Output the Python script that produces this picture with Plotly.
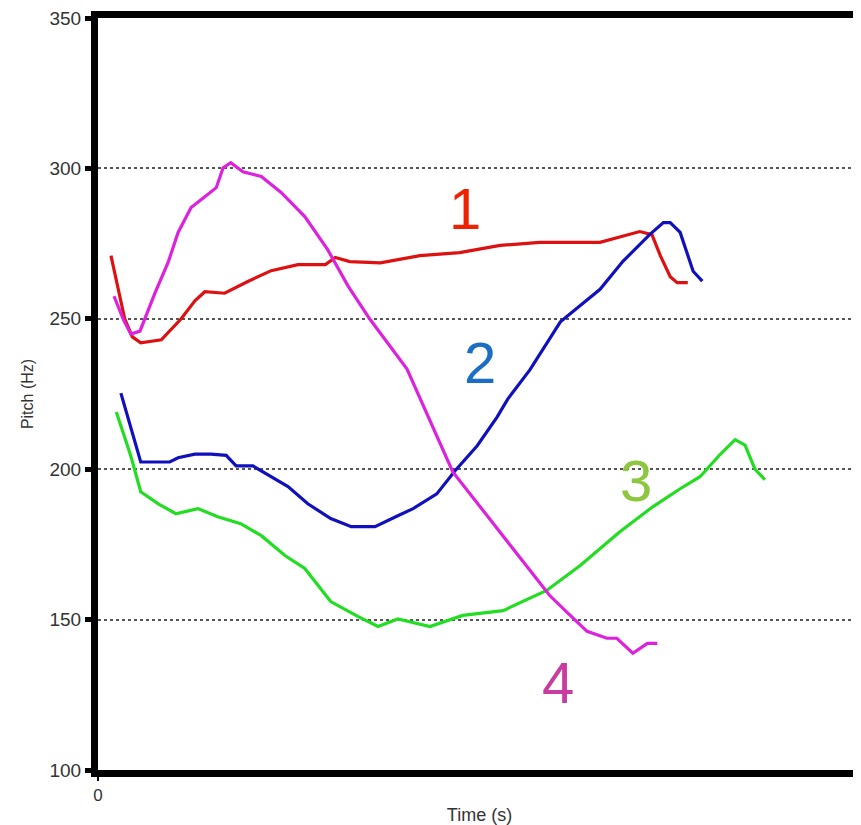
import plotly.graph_objects as go

# Series 1 (red)
t1 = [0.017, 0.026, 0.035, 0.045, 0.056, 0.083, 0.109, 0.127, 0.140, 0.166, 0.197, 0.227, 0.262,
      0.298, 0.311, 0.330, 0.370, 0.422, 0.474, 0.527, 0.579, 0.658, 0.710, 0.726, 0.737, 0.750,
      0.759, 0.773]
f1 = [271, 260.5, 250, 244, 242, 243, 250, 256, 259, 258.5, 262.5, 266, 268, 268, 270.4, 269,
      268.6, 271, 272, 274.4, 275.4, 275.4, 279, 278, 271, 264, 262, 262]

# Series 2 (blue)
t2 = [0.030, 0.043, 0.056, 0.094, 0.105, 0.127, 0.148, 0.168, 0.181, 0.203, 0.227, 0.249, 0.275,
      0.305, 0.332, 0.363, 0.393, 0.413, 0.444, 0.468, 0.497, 0.523, 0.537, 0.566, 0.606, 0.658,
      0.688, 0.723, 0.741, 0.750, 0.763, 0.772, 0.780, 0.792]
f2 = [225.3, 213.4, 202.4, 202.4, 203.8, 205, 205, 204.6, 201.1, 201.1, 197.5, 194.2, 188.5,
      183.6, 180.9, 180.9, 184.5, 186.9, 191.8, 199.5, 207.8, 217.3, 223.3, 233, 249, 259.8,
      269.1, 278, 282, 282, 278.7, 272, 265.8, 262.5]

# Series 3 (green)
t3 = [0.024, 0.043, 0.056, 0.079, 0.102, 0.131, 0.157, 0.187, 0.214, 0.245, 0.271, 0.305, 0.341,
      0.367, 0.393, 0.435, 0.478, 0.531, 0.588, 0.632, 0.684, 0.727, 0.763, 0.789, 0.815, 0.835,
      0.848, 0.861, 0.874]
f3 = [219, 204.4, 192.5, 188.5, 185.2, 186.9, 184.2, 181.9, 177.9, 171.3, 167, 156, 151, 147.7,
      150.2, 147.7, 151.4, 153, 159.7, 168, 179.2, 187.5, 193.5, 197.5, 204.8, 209.8, 208, 200,
      196.5]

# Series 4 (magenta)
t4 = [0.021, 0.033, 0.043, 0.055, 0.075, 0.092, 0.105, 0.122, 0.140, 0.155, 0.164, 0.174, 0.190,
      0.214, 0.240, 0.271, 0.301, 0.328, 0.356, 0.405, 0.465, 0.510, 0.553, 0.592, 0.623, 0.641,
      0.667, 0.680, 0.701, 0.720, 0.733]
f4 = [257.5, 249.9, 244.9, 245.9, 258.8, 268.8, 278.7, 287, 290.6, 293.6, 300.2, 301.9, 298.9,
      297.3, 292, 284, 273, 260.8, 250, 233.3, 199.1, 184.5, 170.3, 158, 150.4, 146.1, 143.8,
      143.8, 138.8, 142.1, 142.1]

series = [
    (t1, f1, "#dd1111"),
    (t2, f2, "#1111bb"),
    (t3, f3, "#22dd22"),
    (t4, f4, "#dd22dd"),
]

label_text = ["1", "2", "3", "4"]
label_t = [0.481, 0.501, 0.705, 0.603]
label_f = [286.8, 235.6, 196.4, 129.0]
label_colors = ["#ee2200", "#1a6fc4", "#8dc63f", "#c83ca0"]

y_ticks = [100, 150, 200, 250, 300, 350]

fig = go.Figure()
for t, f, c in series:
    fig.add_trace(go.Scatter(x=t, y=f, mode="lines", line=dict(color=c, width=3.2),
                             showlegend=False, hoverinfo="skip"))

for txt, x, y, c in zip(label_text, label_t, label_f, label_colors):
    fig.add_annotation(x=x, y=y, text=txt, showarrow=False,
                       font=dict(family="Liberation Sans, Arial", size=58, color=c))

# page body has an 8px default margin, so the figure is 8px smaller on each side
fig.update_layout(
    width=853, height=817,
    margin=dict(l=90, r=0, t=10, b=55),
    paper_bgcolor="white", plot_bgcolor="white",
    font=dict(family="Liberation Sans, Arial", color="#333"),
)
fig.update_xaxes(range=[0, 1.0], showgrid=False, zeroline=False,
                 showline=True, linecolor="black", linewidth=7, mirror=True,
                 tickvals=[0], ticktext=["0"], ticks="outside", ticklen=4, tickwidth=2,
                 tickcolor="black", tickfont=dict(size=17),
                 title=dict(text="Time (s)", font=dict(size=18), standoff=8))
fig.update_yaxes(range=[100, 350], tickvals=y_ticks, ticks="outside", ticklen=6, tickwidth=5,
                 tickcolor="black", tickfont=dict(size=19), zeroline=False,
                 ticklabeloverflow="allow",
                 showgrid=True, gridcolor="#555555", griddash="dot", gridwidth=1.5,
                 showline=True, linecolor="black", linewidth=7,
                 title=dict(text="Pitch (Hz)", font=dict(size=16), standoff=14))

fig.write_html("out.html")
